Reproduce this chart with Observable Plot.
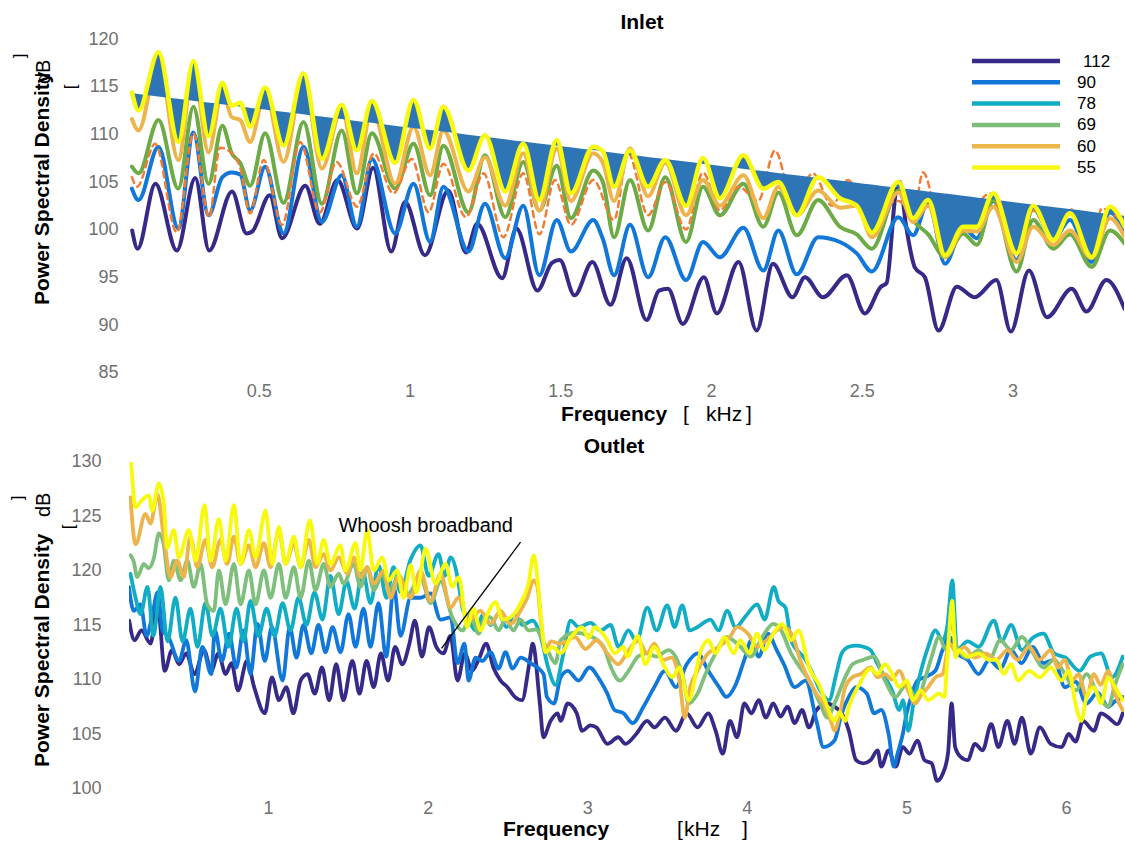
<!DOCTYPE html>
<html><head><meta charset="utf-8">
<script src="https://cdn.jsdelivr.net/npm/d3@7"></script>
<script src="https://cdn.jsdelivr.net/npm/@observablehq/plot@0.6"></script>
<style>
html,body{margin:0;padding:0;background:#fff;}
#wrap{position:relative;width:1125px;height:841px;overflow:hidden;font-family:"Liberation Sans",Arial,Helvetica,sans-serif;}
#wrap svg{position:absolute;left:0;}
</style></head><body><div id="wrap"></div>
<script>
// ---------------- INLET (top) ----------------
const inletXTicks = [0.5, 1, 1.5, 2, 2.5, 3];
const inletYTicks = [85, 90, 95, 100, 105, 110, 115, 120];
const inletFreq = [0.078,0.100,0.166,0.232,0.282,0.332,0.378,0.409,0.437,0.470,0.520,0.581,0.647,0.708,0.774,0.824,0.874,0.951,1.012,1.067,1.111,1.194,1.249,1.316,1.376,1.429,1.487,1.534,1.608,1.640,1.677,1.730,1.790,1.847,1.916,1.972,2.028,2.106,2.172,2.222,2.283,2.354,2.426,2.482,2.532,2.620,2.669,2.719,2.775,2.835,2.880,2.935,3.012,3.067,3.134,3.189,3.261,3.322,3.371];
const inlet55 = [114.4,112.5,118.6,109.2,117.7,109.8,115.4,113.0,113.3,110.8,114.9,108.8,116.4,107.4,113.1,108.3,113.5,107.0,113.6,108.5,112.9,106.2,109.9,104.0,109.0,103.1,109.4,103.8,108.7,108.2,104.5,108.3,104.5,107.3,102.5,107.5,103.3,107.8,104.3,105.0,101.5,105.5,103.3,102.5,99.7,105.0,101.2,103.1,97.3,100.3,100.3,103.8,97.5,102.5,98.9,101.7,97.1,102.4,100.3];
const inlet60 = [111.6,110.4,117.8,107.3,117.0,108.1,114.6,111.8,111.5,109.2,114.4,107.1,115.9,106.4,112.7,105.9,112.7,104.8,110.8,105.7,110.4,104.0,107.6,102.5,108.0,102.0,108.5,103.0,108.0,107.0,103.0,108.5,103.5,107.0,101.5,105.2,102.5,105.7,101.2,104.5,101.5,104.1,102.3,102.5,99.2,103.9,100.8,102.5,97.1,99.9,99.8,102.4,96.6,100.3,98.4,99.9,97.0,101.2,99.2];
const inlet69 = [106.6,105.9,111.5,104.3,112.9,104.8,110.9,108.0,107.0,104.6,110.1,102.8,111.3,102.7,110.4,103.8,110.1,104.3,109.0,103.6,108.8,101.8,107.8,101.3,107.1,102.0,106.7,101.2,106.2,105.0,99.2,105.2,99.9,105.5,98.7,104.5,101.5,104.8,100.3,103.9,99.4,103.1,100.3,99.5,98.0,104.1,101.0,99.5,97.1,99.6,98.4,103.1,95.6,101.0,98.0,99.5,96.1,99.9,98.5];
const inlet90 = [104.3,103.1,108.7,100.1,110.2,101.5,105.5,106.0,105.8,102.0,106.6,99.6,108.7,100.8,105.7,100.3,107.4,99.6,104.8,98.7,104.5,97.7,102.7,97.0,102.5,95.2,101.0,97.7,101.0,99.0,95.2,100.5,95.0,99.2,94.7,98.7,97.1,100.2,95.7,99.9,95.3,99.2,98.7,97.5,95.6,101.3,99.4,102.9,96.4,100.3,99.1,103.0,96.8,102.2,99.0,101.0,96.6,101.8,99.9];
const inlet112 = [[0.079,99.9],[0.097,98.0],[0.156,104.8],[0.227,97.8],[0.288,105.4],[0.334,97.8],[0.410,104.0],[0.458,99.6],[0.477,99.8],[0.535,103.6],[0.576,99.1],[0.653,104.6],[0.701,100.6],[0.760,105.2],[0.825,100.1],[0.878,106.5],[0.938,97.7],[0.984,102.9],[1.050,97.3],[1.127,104.1],[1.186,97.6],[1.223,100.6],[1.306,94.9],[1.353,100.1],[1.423,93.6],[1.471,96.5],[1.497,96.8],[1.546,93.1],[1.605,96.6],[1.665,92.1],[1.719,97.0],[1.785,90.5],[1.826,93.6],[1.856,93.8],[1.905,90.1],[1.975,95.0],[2.018,91.2],[2.090,96.6],[2.150,89.4],[2.204,96.4],[2.269,92.9],[2.310,95.0],[2.370,92.9],[2.449,95.2],[2.509,91.2],[2.562,94.0],[2.581,94.4],[2.612,104.0],[2.625,105.0],[2.645,100.5],[2.675,96.0],[2.708,95.0],[2.753,89.4],[2.814,94.0],[2.873,92.9],[2.945,94.7],[2.993,89.3],[3.053,95.7],[3.113,90.8],[3.195,93.8],[3.244,91.4],[3.310,94.7],[3.370,91.7]];
const inlet78 = [[0.078,105.5],[0.095,104.5],[0.155,109.0],[0.227,99.7],[0.282,110.1],[0.334,101.3],[0.370,108.6],[0.410,108.0],[0.437,106.5],[0.470,101.7],[0.515,107.3],[0.576,100.5],[0.636,109.2],[0.701,101.8],[0.757,107.1],[0.825,102.4],[0.880,108.0],[0.945,103.8],[1.006,107.4],[1.062,101.8],[1.111,106.9],[1.186,101.3],[1.244,105.9],[1.310,99.2],[1.376,105.9],[1.430,99.5],[1.481,105.2],[1.534,100.5],[1.608,105.2],[1.677,101.0],[1.724,108.0],[1.790,101.5],[1.847,105.0],[1.916,100.0],[1.972,106.0],[2.028,102.0],[2.090,104.5],[2.155,103.0],[2.211,108.3],[2.270,103.0],[2.337,105.9],[2.400,102.5],[2.453,105.2],[2.532,100.0],[2.580,102.5],[2.620,103.0],[2.669,101.5],[2.702,106.0],[2.775,98.0],[2.835,100.0],[2.924,103.8],[3.012,97.5],[3.067,102.0],[3.134,99.0],[3.189,102.2],[3.261,97.5],[3.294,102.2],[3.371,100.5]];
const inletTrendKHz = [0.07, 3.37];
const inletTrendDb = [114.3, 101.4];

// ---------------- OUTLET (bottom) ----------------
const outletXTicks = [1, 2, 3, 4, 5, 6];
const outletYTicks = [100, 105, 110, 115, 120, 125, 130];
const outlet55 = [[0.140,129.8],[0.167,125.8],[0.198,126.3],[0.250,126.9],[0.271,125.5],[0.313,128.0],[0.344,126.1],[0.365,122.1],[0.407,123.7],[0.438,121.2],[0.501,123.7],[0.543,120.9],[0.599,126.0],[0.637,120.9],[0.689,124.7],[0.731,120.9],[0.783,126.0],[0.825,120.6],[0.877,123.7],[0.919,121.2],[0.981,125.5],[1.023,120.6],[1.065,124.0],[1.107,120.6],[1.159,123.1],[1.201,120.3],[1.259,124.6],[1.305,120.6],[1.346,122.8],[1.388,120.6],[1.451,122.3],[1.482,120.0],[1.545,122.5],[1.576,120.0],[1.618,123.7],[1.660,120.0],[1.712,121.2],[1.754,119.1],[1.806,120.0],[1.846,117.5],[1.890,120.5],[1.927,118.0],[1.984,122.0],[2.046,118.8],[2.109,120.6],[2.151,118.5],[2.192,119.4],[2.245,114.8],[2.284,116.5],[2.328,114.5],[2.372,116.0],[2.422,117.1],[2.466,115.5],[2.516,115.7],[2.579,117.0],[2.629,118.8],[2.662,121.4],[2.694,117.9],[2.715,114.5],[2.736,112.5],[2.779,113.0],[2.830,112.4],[2.897,113.9],[2.965,114.8],[3.005,113.8],[3.044,114.8],[3.089,114.3],[3.123,113.6],[3.168,112.4],[3.224,113.0],[3.248,112.1],[3.315,114.0],[3.360,111.4],[3.417,113.0],[3.473,111.4],[3.529,110.2],[3.575,111.1],[3.632,108.1],[3.710,112.7],[3.755,113.6],[3.801,112.4],[3.857,113.9],[3.914,112.4],[3.957,113.6],[4.014,112.4],[4.060,114.2],[4.105,112.7],[4.162,114.2],[4.218,115.1],[4.274,113.6],[4.320,114.5],[4.387,111.1],[4.456,109.3],[4.501,107.5],[4.546,106.2],[4.578,107.0],[4.613,106.2],[4.636,107.5],[4.703,109.6],[4.772,111.0],[4.816,110.5],[4.862,111.4],[4.907,110.5],[4.952,109.3],[4.998,109.9],[5.041,108.1],[5.085,109.0],[5.133,108.1],[5.201,108.7],[5.234,108.4],[5.254,112.0],[5.284,117.2],[5.305,112.0],[5.323,112.7],[5.381,112.1],[5.449,112.4],[5.516,111.8],[5.561,111.8],[5.606,110.5],[5.652,111.4],[5.697,109.9],[5.765,110.8],[5.833,110.2],[5.900,111.1],[5.969,109.9],[6.013,110.8],[6.056,107.8],[6.092,106.2],[6.125,108.4],[6.171,109.3],[6.216,107.8],[6.261,110.2],[6.303,109.3],[6.352,108.1]];
const outlet60 = [[0.135,126.7],[0.167,122.4],[0.229,125.2],[0.261,124.3],[0.303,127.0],[0.344,123.1],[0.386,119.4],[0.428,120.9],[0.469,119.4],[0.511,123.1],[0.553,120.3],[0.605,122.8],[0.647,120.3],[0.699,122.8],[0.741,120.6],[0.783,123.1],[0.825,120.6],[0.877,122.3],[0.919,120.3],[0.971,122.5],[1.013,120.3],[1.065,123.7],[1.107,120.6],[1.159,122.5],[1.201,120.3],[1.253,122.8],[1.294,120.3],[1.346,121.5],[1.388,120.0],[1.440,121.2],[1.493,119.7],[1.534,121.2],[1.576,119.4],[1.618,120.3],[1.660,118.8],[1.722,120.0],[1.764,117.5],[1.816,119.5],[1.890,117.5],[1.952,120.0],[2.015,117.2],[2.078,119.7],[2.141,116.6],[2.190,117.5],[2.255,115.4],[2.328,116.3],[2.391,115.1],[2.454,116.3],[2.516,115.1],[2.579,116.3],[2.621,117.5],[2.662,119.1],[2.685,118.5],[2.704,115.7],[2.736,112.5],[2.767,113.5],[2.830,113.3],[2.920,113.9],[2.986,112.8],[3.055,113.6],[3.123,112.4],[3.191,111.4],[3.249,112.5],[3.315,113.6],[3.372,112.4],[3.417,113.3],[3.473,111.8],[3.525,112.0],[3.575,109.9],[3.608,106.5],[3.642,109.3],[3.688,110.8],[3.755,112.4],[3.823,113.0],[3.891,113.9],[3.936,114.8],[4.004,114.2],[4.060,113.0],[4.120,113.6],[4.184,114.5],[4.229,114.8],[4.286,113.9],[4.331,111.8],[4.387,109.9],[4.433,108.7],[4.477,107.8],[4.523,106.2],[4.546,105.3],[4.580,106.9],[4.613,109.3],[4.659,110.2],[4.709,110.5],[4.772,111.1],[4.816,110.2],[4.862,110.5],[4.904,110.0],[4.952,110.8],[4.998,109.3],[5.054,107.8],[5.085,108.5],[5.133,109.3],[5.178,110.2],[5.223,110.5],[5.267,113.3],[5.313,112.4],[5.358,113.0],[5.424,112.0],[5.494,112.4],[5.561,111.8],[5.629,112.7],[5.693,111.8],[5.765,113.0],[5.831,111.8],[5.900,112.7],[5.946,111.1],[5.988,111.8],[6.036,109.9],[6.075,110.5],[6.125,108.4],[6.171,110.5],[6.213,109.5],[6.261,110.8],[6.303,108.7],[6.352,107.2]];
const outlet69 = [[0.135,121.4],[0.156,120.8],[0.177,119.4],[0.219,120.6],[0.248,120.2],[0.281,121.1],[0.313,123.4],[0.342,122.5],[0.375,119.1],[0.407,120.9],[0.449,119.1],[0.491,120.9],[0.532,118.5],[0.574,120.6],[0.616,116.9],[0.657,116.3],[0.689,120.0],[0.731,116.9],[0.783,120.6],[0.825,116.9],[0.877,120.0],[0.919,116.9],[0.971,120.0],[1.013,117.5],[1.065,120.6],[1.107,117.5],[1.159,120.3],[1.201,117.5],[1.253,120.9],[1.294,118.2],[1.346,120.6],[1.388,118.5],[1.440,119.7],[1.470,118.8],[1.534,120.6],[1.576,118.5],[1.618,120.3],[1.660,118.2],[1.712,119.6],[1.764,118.2],[1.815,119.6],[1.871,117.8],[1.952,119.4],[2.015,117.0],[2.078,119.0],[2.151,115.7],[2.216,114.5],[2.266,116.0],[2.316,114.2],[2.360,115.8],[2.391,115.7],[2.441,114.5],[2.485,115.5],[2.535,114.5],[2.579,115.5],[2.629,114.5],[2.679,114.6],[2.704,114.0],[2.754,112.5],[2.798,111.5],[2.830,113.6],[2.917,114.3],[3.011,114.0],[3.099,113.0],[3.146,111.1],[3.202,109.9],[3.256,110.8],[3.315,112.1],[3.368,112.4],[3.431,112.1],[3.506,112.7],[3.550,112.1],[3.597,110.2],[3.632,107.8],[3.688,108.7],[3.738,110.5],[3.801,112.4],[3.868,113.9],[3.957,113.0],[4.020,112.1],[4.094,113.9],[4.162,115.1],[4.208,114.6],[4.274,112.4],[4.321,111.3],[4.387,109.9],[4.456,107.8],[4.501,106.5],[4.546,107.8],[4.613,110.2],[4.659,111.4],[4.726,111.8],[4.794,112.1],[4.862,109.9],[4.929,108.4],[4.998,109.6],[5.065,108.1],[5.110,109.9],[5.155,112.1],[5.201,113.9],[5.246,112.7],[5.280,115.4],[5.313,113.0],[5.380,112.0],[5.449,112.7],[5.516,111.8],[5.584,113.6],[5.652,112.7],[5.720,113.9],[5.787,112.5],[5.855,111.1],[5.922,111.8],[5.990,110.5],[6.058,109.0],[6.125,110.5],[6.194,108.7],[6.261,107.5],[6.303,109.5],[6.352,111.4]];
const outlet78 = [[0.135,119.7],[0.167,117.5],[0.198,116.0],[0.242,118.5],[0.279,114.0],[0.323,118.5],[0.367,113.5],[0.417,117.5],[0.461,113.5],[0.511,116.5],[0.555,113.0],[0.605,117.0],[0.649,114.0],[0.699,116.5],[0.749,113.0],[0.800,116.5],[0.843,113.5],[0.887,117.2],[0.937,114.0],[0.988,116.5],[1.038,114.0],[1.088,117.0],[1.138,114.5],[1.188,117.5],[1.238,115.0],[1.288,118.0],[1.338,115.5],[1.388,119.5],[1.439,116.0],[1.489,119.0],[1.539,116.5],[1.589,120.0],[1.639,117.0],[1.689,120.5],[1.739,117.5],[1.783,120.3],[1.827,118.0],[1.890,121.0],[1.952,122.3],[2.003,119.5],[2.065,121.5],[2.103,119.5],[2.141,121.2],[2.184,119.4],[2.216,116.5],[2.247,115.7],[2.297,114.5],[2.347,116.0],[2.391,115.0],[2.441,116.0],[2.491,114.8],[2.541,116.0],[2.591,115.0],[2.654,115.4],[2.704,114.0],[2.754,111.0],[2.798,109.5],[2.842,112.0],[2.893,115.4],[2.943,114.8],[3.018,115.2],[3.080,114.5],[3.143,115.0],[3.193,113.0],[3.255,114.5],[3.306,113.5],[3.373,116.6],[3.431,114.5],[3.498,116.8],[3.544,114.8],[3.592,116.8],[3.638,114.5],[3.686,114.8],[3.769,115.5],[3.820,114.5],[3.874,116.3],[3.926,114.8],[3.989,115.8],[4.062,116.9],[4.108,115.5],[4.166,118.5],[4.195,117.2],[4.239,116.6],[4.274,113.6],[4.365,111.8],[4.410,110.5],[4.456,109.0],[4.512,108.1],[4.557,110.5],[4.591,112.4],[4.636,113.0],[4.681,113.1],[4.726,113.0],[4.772,112.7],[4.816,111.4],[4.862,110.2],[4.907,109.0],[4.952,107.2],[4.975,108.1],[5.008,105.3],[5.041,107.8],[5.088,110.8],[5.133,113.0],[5.178,114.5],[5.223,113.6],[5.254,115.0],[5.284,119.1],[5.313,112.7],[5.380,113.5],[5.449,113.0],[5.545,115.4],[5.593,113.5],[5.652,115.0],[5.720,112.7],[5.787,113.8],[5.855,114.2],[5.922,112.4],[5.994,112.0],[6.081,110.8],[6.149,112.1],[6.216,112.4],[6.284,110.2],[6.352,112.1]];
const outlet90 = [[0.125,118.5],[0.156,116.3],[0.198,116.9],[0.236,114.0],[0.273,116.0],[0.305,118.0],[0.336,114.5],[0.373,113.9],[0.440,111.7],[0.484,113.6],[0.540,108.9],[0.585,113.0],[0.641,110.5],[0.664,114.5],[0.708,111.7],[0.753,114.2],[0.798,111.1],[0.843,114.5],[0.887,110.5],[0.931,115.1],[0.977,111.7],[1.021,114.8],[1.088,109.9],[1.133,114.8],[1.175,112.0],[1.219,115.0],[1.268,112.4],[1.313,115.0],[1.357,112.5],[1.401,114.8],[1.451,112.5],[1.501,116.0],[1.545,113.0],[1.595,116.5],[1.639,113.0],[1.689,117.0],[1.737,112.1],[1.785,118.5],[1.827,114.0],[1.890,117.5],[1.952,117.5],[2.015,117.9],[2.078,115.5],[2.141,115.7],[2.184,111.5],[2.228,113.3],[2.253,109.9],[2.297,112.0],[2.341,111.7],[2.391,112.5],[2.441,111.0],[2.485,112.5],[2.529,111.0],[2.579,112.0],[2.642,111.5],[2.723,110.5],[2.744,108.4],[2.789,107.8],[2.830,110.2],[2.875,110.8],[2.942,109.9],[3.010,111.1],[3.078,109.9],[3.123,108.7],[3.168,107.2],[3.224,106.9],[3.281,106.0],[3.349,107.5],[3.417,109.3],[3.484,110.8],[3.552,109.3],[3.620,111.4],[3.688,112.4],[3.755,110.8],[3.823,109.3],[3.868,108.4],[3.926,109.5],[3.981,111.8],[4.026,113.6],[4.071,112.1],[4.128,114.2],[4.184,112.7],[4.229,111.4],[4.297,109.3],[4.365,109.9],[4.433,106.2],[4.477,103.8],[4.546,104.4],[4.591,106.9],[4.636,108.4],[4.681,109.3],[4.749,108.7],[4.794,106.9],[4.839,107.2],[4.885,105.0],[4.918,102.0],[4.941,103.2],[4.974,105.0],[4.998,106.9],[5.020,108.1],[5.065,109.9],[5.110,110.2],[5.178,110.8],[5.223,112.7],[5.267,113.9],[5.313,112.4],[5.381,111.8],[5.449,110.5],[5.516,111.8],[5.584,111.0],[5.652,112.7],[5.718,111.5],[5.788,113.0],[5.856,111.5],[5.922,111.8],[5.990,109.3],[6.056,109.8],[6.125,107.8],[6.194,108.8],[6.261,107.5],[6.303,108.0],[6.352,108.4]];
const outlet112 = [[0.127,115.4],[0.160,113.6],[0.204,114.5],[0.261,113.3],[0.305,117.0],[0.350,110.8],[0.395,112.7],[0.440,111.4],[0.484,112.4],[0.536,110.5],[0.596,112.7],[0.641,110.8],[0.686,112.4],[0.731,110.5],[0.768,111.5],[0.809,109.0],[0.865,111.7],[0.910,109.3],[0.977,106.9],[1.021,110.2],[1.066,108.1],[1.111,109.3],[1.156,106.9],[1.201,109.9],[1.244,110.5],[1.290,108.7],[1.335,111.1],[1.380,108.1],[1.424,111.4],[1.469,108.1],[1.525,111.7],[1.570,108.7],[1.614,111.7],[1.659,109.3],[1.704,112.4],[1.749,109.9],[1.793,113.0],[1.838,111.4],[1.883,113.3],[1.917,115.4],[1.961,112.1],[2.006,114.8],[2.051,113.0],[2.096,112.4],[2.140,114.0],[2.184,109.9],[2.230,112.4],[2.274,110.8],[2.316,111.8],[2.364,113.3],[2.409,111.1],[2.454,109.9],[2.497,109.3],[2.543,108.4],[2.588,108.1],[2.633,111.4],[2.655,113.3],[2.700,107.8],[2.722,104.7],[2.767,106.2],[2.811,106.9],[2.830,106.2],[2.875,107.8],[2.931,106.9],[2.965,105.3],[3.018,105.8],[3.055,105.6],[3.123,104.1],[3.191,104.7],[3.236,104.1],[3.304,105.0],[3.372,106.2],[3.417,105.6],[3.484,106.5],[3.552,105.3],[3.620,106.9],[3.688,105.6],[3.755,106.9],[3.801,105.3],[3.846,103.2],[3.891,106.2],[3.936,104.7],[3.981,107.8],[4.026,106.9],[4.071,108.1],[4.116,106.5],[4.162,107.8],[4.208,106.6],[4.252,107.5],[4.297,106.0],[4.342,107.2],[4.387,105.6],[4.433,107.2],[4.501,107.8],[4.547,107.5],[4.591,106.9],[4.636,105.3],[4.681,102.6],[4.726,102.3],[4.772,102.6],[4.816,103.5],[4.839,102.0],[4.885,103.5],[4.929,102.0],[4.974,103.8],[5.016,103.2],[5.065,104.4],[5.110,102.6],[5.155,102.3],[5.189,100.7],[5.223,101.3],[5.257,103.2],[5.280,107.8],[5.302,103.8],[5.336,102.9],[5.381,102.6],[5.426,104.1],[5.474,103.5],[5.528,105.9],[5.573,103.8],[5.629,106.2],[5.674,104.1],[5.720,106.5],[5.776,103.2],[5.833,105.6],[5.900,104.1],[5.969,103.8],[6.013,105.0],[6.056,104.3],[6.103,106.2],[6.171,105.3],[6.216,106.9],[6.263,106.5],[6.317,105.9],[6.352,106.9]];
const whooshLine = [{x1: 2.579, y1: 122.6, x2: 2.084, y2: 112.85}];
const whooshLabel = [{x: 1.438, y: 124.1, text: "Whoosh broadband"}];

// ---------------- legend ----------------
const legendLabels = ["112", "90", "78", "69", "60", "55"];
const legendColors = ["#352a87", "#1077d9", "#12adc5", "#7bbd7b", "#ecb64b", "#f6f80f"];

// ---------------- drawing ----------------
(function () {
const FONT = '"Liberation Sans", Arial, Helvetica, sans-serif';
const TICK = "#707070";
const C = {n: "#352a87", b: "#1178da", t: "#12adc5", g: "#7dbf7b", gTop: "#6cab45", o: "#ecb44b", y: "#f7f90f", d: "#ef7d35", fill: "#2e75b6"};
const wrap = document.getElementById("wrap");
const fmt = d => String(d);

const trendAt = f => inletTrendDb[0] + (f - inletTrendKHz[0]) * (inletTrendDb[1] - inletTrendDb[0]) / (inletTrendKHz[1] - inletTrendKHz[0]);

const inletChart = Plot.plot({
  width: 1125, height: 430,
  marginLeft: 129, marginRight: 1, marginTop: 38.5, marginBottom: 58,
  style: {fontFamily: FONT, fontSize: "18px", color: TICK, background: "transparent", overflow: "visible"},
  x: {domain: [0.07, 3.37]},
  y: {domain: [85, 120]},
  marks: [
    Plot.axisX(inletXTicks, {tickSize: 0, tickPadding: 12, label: null, fontSize: 18, tickFormat: fmt}),
    Plot.axisY(inletYTicks, {tickSize: 0, tickPadding: 11, label: null, fontSize: 18, tickFormat: fmt}),
    Plot.line(inlet112, {stroke: C.n, strokeWidth: 4, curve: "monotone-x", clip: true}),
    Plot.lineY(inlet90, {x: inletFreq, stroke: C.b, strokeWidth: 4, curve: "monotone-x", clip: true}),
    Plot.lineY(inlet69, {x: inletFreq, stroke: C.gTop, strokeWidth: 4, curve: "monotone-x", clip: true}),
    Plot.line(inlet78, {stroke: C.d, strokeWidth: 2.5, strokeDasharray: "6,5", curve: "monotone-x", clip: true}),
    Plot.lineY(inlet60, {x: inletFreq, stroke: C.o, strokeWidth: 4, curve: "monotone-x", clip: true}),
    Plot.areaY(inlet55, {x: inletFreq, y1: inletFreq.map(trendAt), y2: inlet55, fill: C.fill, curve: "monotone-x", clip: true}),
    Plot.lineY(inlet55, {x: inletFreq, stroke: C.y, strokeWidth: 4.5, curve: "monotone-x", clip: true})
  ]
});
inletChart.style.top = "0px";
wrap.appendChild(inletChart);

const outletChart = Plot.plot({
  width: 1125, height: 411,
  marginLeft: 129, marginRight: 1, marginTop: 31, marginBottom: 53,
  style: {fontFamily: FONT, fontSize: "18px", color: TICK, background: "transparent", overflow: "visible"},
  x: {domain: [0.129, 6.363]},
  y: {domain: [100, 130]},
  marks: [
    Plot.axisX(outletXTicks, {tickSize: 0, tickPadding: 13, label: null, fontSize: 18, tickFormat: fmt}),
    Plot.axisY(outletYTicks, {tickSize: 0, tickPadding: 28, label: null, fontSize: 18, tickFormat: fmt}),
    Plot.line(outlet112, {stroke: C.n, strokeWidth: 3.8, curve: "monotone-x", clip: true}),
    Plot.line(outlet90, {stroke: C.b, strokeWidth: 3.8, curve: "monotone-x", clip: true}),
    Plot.line(outlet78, {stroke: C.t, strokeWidth: 3.8, curve: "monotone-x", clip: true}),
    Plot.line(outlet69, {stroke: C.g, strokeWidth: 3.8, curve: "monotone-x", clip: true}),
    Plot.line(outlet60, {stroke: C.o, strokeWidth: 3.8, curve: "monotone-x", clip: true}),
    Plot.line(outlet55, {stroke: C.y, strokeWidth: 3.8, curve: "monotone-x", clip: true}),
    Plot.link(whooshLine, {x1: "x1", y1: "y1", x2: "x2", y2: "y2", stroke: "#000", strokeWidth: 1.3}),
    Plot.text(whooshLabel, {x: "x", y: "y", text: "text", textAnchor: "start", fontSize: 20, fill: "#000"})
  ]
});
outletChart.style.top = "430px";
wrap.appendChild(outletChart);

// ---------------- overlay: titles, axis labels, legend ----------------
const ov = d3.create("svg").attr("width", 1125).attr("height", 841)
  .style("top", "0px").style("font-family", FONT).style("pointer-events", "none");

function txt(s, x, y, opts = {}) {
  const t = ov.append("text").text(s)
    .attr("fill", opts.fill || "#000")
    .attr("font-size", opts.size || 21)
    .attr("font-weight", opts.bold ? "bold" : "normal")
    .attr("text-anchor", opts.anchor || "start");
  if (opts.central) t.attr("dominant-baseline", "central");
  if (opts.rot) t.attr("transform", `translate(${x},${y}) rotate(-90)`);
  else t.attr("x", x).attr("y", y);
  return t;
}

txt("Inlet", 642, 29, {bold: true, anchor: "middle"});
txt("Outlet", 614, 452.5, {bold: true, anchor: "middle"});

txt("Frequency", 561, 420.5, {bold: true});
txt("[", 683, 420.5);
txt("kHz", 706, 420.5);
txt("]", 746, 420.5);
txt("Frequency", 503, 836, {bold: true});
txt("[", 677, 836);
txt("kHz", 684, 836);
txt("]", 742, 836);

txt("Power Spectral Density", 49, 305, {bold: true, rot: true});
txt("dB", 50, 84, {rot: true, size: 20});
txt("]", 19, 56, {rot: true, size: 17, anchor: "middle", central: true});
txt("[", 70, 87, {rot: true, size: 17, anchor: "middle", central: true});
txt("Power Spectral Density", 49, 767, {bold: true, rot: true});
txt("dB", 50, 517, {rot: true, size: 20});
txt("]", 17, 498, {rot: true, size: 17, anchor: "middle", central: true});
txt("[", 68, 527, {rot: true, size: 17, anchor: "middle", central: true});

legendLabels.forEach((lab, i) => {
  const y = 61 + i * 21.3;
  ov.append("line").attr("x1", 972).attr("x2", 1060).attr("y1", y).attr("y2", y)
    .attr("stroke", legendColors[i]).attr("stroke-width", 4.5);
  txt(lab, i === 0 ? 1083 : 1077, y, {size: 17, central: true});
});

wrap.appendChild(ov.node());
})();
</script></body></html>
